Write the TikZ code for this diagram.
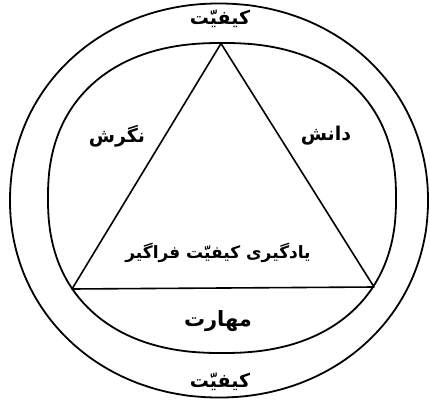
\documentclass[tikz,border=0pt]{standalone}
\usepackage{fontspec}
\newfontfamily\arabicfont[Script=Arabic]{DejaVu Sans}
\TeXXeTstate=1
\begin{document}
\begin{tikzpicture}[x=1pt,y=-1pt,
  ring/.style={draw=black,line width=1.8pt},
  edge/.style={draw=black,line width=1.6pt,line join=round},
  lbl/.style={font=\arabicfont\bfseries\fontsize{19}{22}\selectfont,inner sep=0pt},
  lblb/.style={font=\arabicfont\bfseries\fontsize{21}{24}\selectfont,inner sep=0pt},
  lblm/.style={font=\arabicfont\bfseries\fontsize{17}{20}\selectfont,inner sep=0pt}]
\useasboundingbox (0,0) rectangle (430,404);
% outer ring
\draw[ring] plot[domain=0.5:358,samples=144,smooth cycle]
  ({219+209*sign(cos(\x))*pow(abs(cos(\x))+0.00001,2/2.05)},
   {200.5+197*sign(sin(\x))*pow(abs(sin(\x))+0.00001,2/2.05)});
% inner ring
\draw[ring] plot[domain=0.5:358,samples=144,smooth cycle]
  ({222+174*sign(cos(\x))*pow(abs(cos(\x))+0.00001,2/2.3)},
   {198+155*sign(sin(\x))*pow(abs(sin(\x))+0.00001,2/2.3)});
\coordinate (apex) at (221,43.5);
\coordinate (lv) at (72,289);
\coordinate (rv) at (374,287);
\draw[edge] (apex) -- (lv) -- (rv) -- cycle;
\node[lbl] (top) at (220,19) {\beginR کیفیّت\endR};
\node[lbl] (att) at (117,136) {\beginR نگرش\endR};
\node[lbl] (kno) at (326,136) {\beginR دانش\endR};
\node[lblm] (tql) at (218,253) {\beginR یادگیری کیفیّت فراگیر\endR};
\node[lblb] (ski) at (218,321) {\beginR مهارت\endR};
\node[lbl] (bot) at (220,382) {\beginR کیفیّت\endR};
\end{tikzpicture}
\end{document}
